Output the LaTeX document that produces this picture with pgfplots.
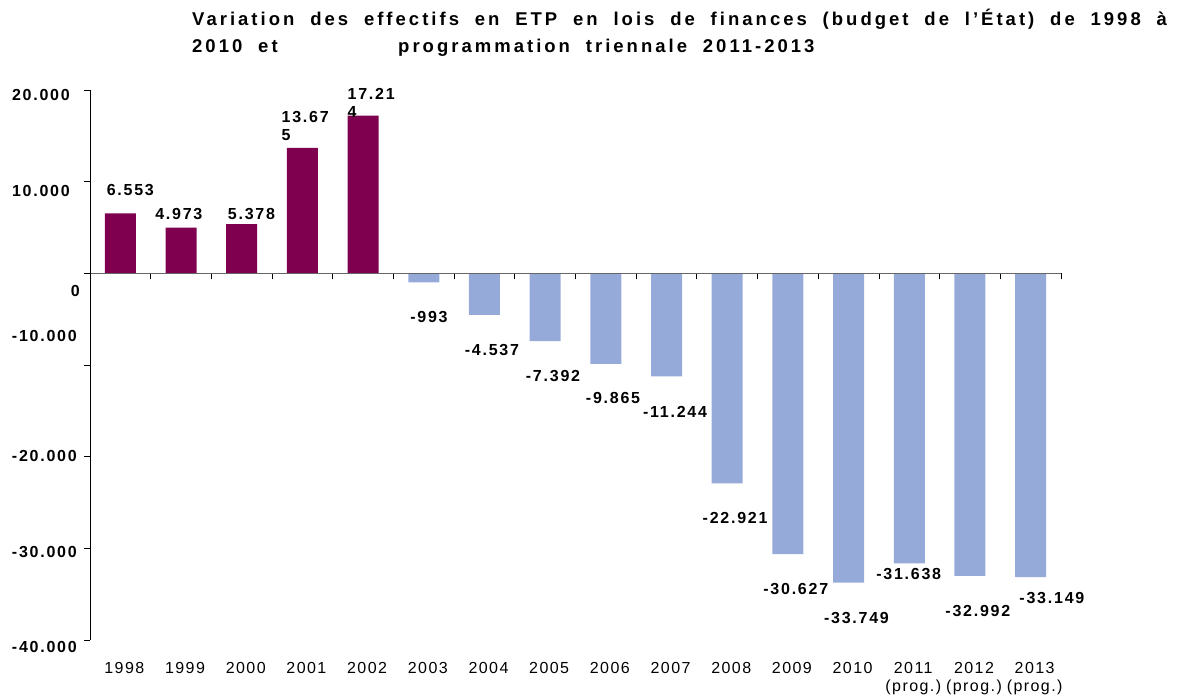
\documentclass[border=0pt]{standalone}
\usepackage{fontspec}
\setmainfont{Liberation Sans}
\newfontfamily\lsb{Liberation Sans}[LetterSpace=11]
\newfontfamily\lsr{Liberation Sans}[LetterSpace=9]
\newfontfamily\lst{Liberation Sans}[LetterSpace=16.3, WordSpace=1.94]
\usepackage{pgfplots}
\pgfplotsset{compat=1.18}
\definecolor{purpleC}{RGB}{128,0,80}
\definecolor{blueC}{RGB}{150,170,218}
\newcommand\lab[3]{\raisebox{\dimexpr -#1pt - 5.7pt\relax}[0pt][0pt]{#3\kern#2pt}}
\begin{document}
\begin{tikzpicture}
\useasboundingbox (-90pt,-58pt) rectangle (1098pt,640pt);
\begin{axis}[
  scale only axis, width=971pt, height=550pt,
  xmin=-0.5, xmax=15.5, ymin=-40000, ymax=20000,
  axis y line*=left, axis x line*=middle,
  y axis line style={-, black, line width=0.8pt},
  x axis line style={-, black!60, line width=1.3pt},
  axis on top,
  clip=false,
  scaled y ticks=false,
  tick align=outside,
  major tick length=6pt, minor tick length=6pt,
  xtick={0,...,15},
  xticklabels={1998,1999,2000,2001,2002,2003,2004,2005,2006,2007,2008,2009,2010,{2011\\(prog.)},{2012\\(prog.)},{2013\\(prog.)}},
  major x tick style={draw=none},
  minor xtick={-0.5,0.5,...,15.5},
  minor x tick style={black, line width=0.8pt},
  major y tick style={black, line width=0.8pt},
  xticklabel style={font=\lsr\fontsize{16}{18}\selectfont, anchor=north, align=center, inner sep=0pt, yshift=-383pt, xshift=4pt},
  ytick={-40000,-30000,-20000,-10000,0,10000,20000},
  yticklabels={\lab{7}{7}{-40.000},\lab{3}{7}{-30.000},\lab{-1}{7}{-20.000},\lab{-29}{7}{-10.000},\lab{17}{4}{0},\lab{9}{14}{10.000},\lab{5}{14}{20.000}},
  yticklabel style={font=\lsb\bfseries\fontsize{16}{18}\selectfont, anchor=east, inner sep=0pt},
]
\addplot[ybar, bar width=31pt, bar shift=0pt, fill=purpleC, draw=none]
  coordinates {(0,6553)(1,4973)(2,5378)(3,13675)(4,17214)};
\addplot[ybar, bar width=31pt, bar shift=0pt, fill=blueC, draw=none]
  coordinates {(5,-993)(6,-4537)(7,-7392)(8,-9865)(9,-11244)(10,-22921)(11,-30627)(12,-33749)(13,-31638)(14,-32992)(15,-33149)};
% data labels (single line, centred)
\addplot[only marks, mark=none, point meta=explicit symbolic,
  nodes near coords={\pgfplotspointmeta},
  nodes near coords align={anchor=center},
  nodes near coords style={anchor=center, inner sep=0pt, font=\lsb\bfseries\fontsize{16}{18}\selectfont}]
  coordinates {
  (0.165,9130) [6.553]
  (0.964,6500) [4.973]
  (2.16,6500) [5.378]
  (5.085,-4750) [-993]
  (6.123,-8310) [-4.537]
  (7.129,-11200) [-7.392]
  (8.118,-13610) [-9.865]
  (9.14,-15140) [-11.244]
  (10.13,-26720) [-22.921]
  (11.13,-34480) [-30.627]
  (12.13,-37600) [-33.749]
  (12.99,-32840) [-31.638]
  (14.13,-36890) [-32.992]
  (15.35,-35460) [-33.149]
  };
% data labels (wrapped)
\addplot[only marks, mark=none, point meta=explicit symbolic,
  nodes near coords={\pgfplotspointmeta},
  nodes near coords align={anchor=north west},
  nodes near coords style={anchor=north west, align=left, inner sep=0pt, font=\lsb\bfseries\fontsize{16}{18}\selectfont}]
  coordinates {
  (2.654,17700) [13.67\\5]
  (3.742,20220) [17.21\\4]
  };
\end{axis}
\node[anchor=base west, inner sep=0pt, font=\lst\bfseries\fontsize{18.5}{22}\selectfont] at (102pt,614pt) {Variation des effectifs en ETP en lois de finances (budget de l’État) de 1998 à};
\node[anchor=base west, inner sep=0pt, font=\lst\bfseries\fontsize{18.5}{22}\selectfont] at (102pt,587pt) {2010 et};
\node[anchor=base west, inner sep=0pt, font=\lst\bfseries\fontsize{18.5}{22}\selectfont] at (308pt,587pt) {programmation triennale 2011-2013};
\end{tikzpicture}
\end{document}
